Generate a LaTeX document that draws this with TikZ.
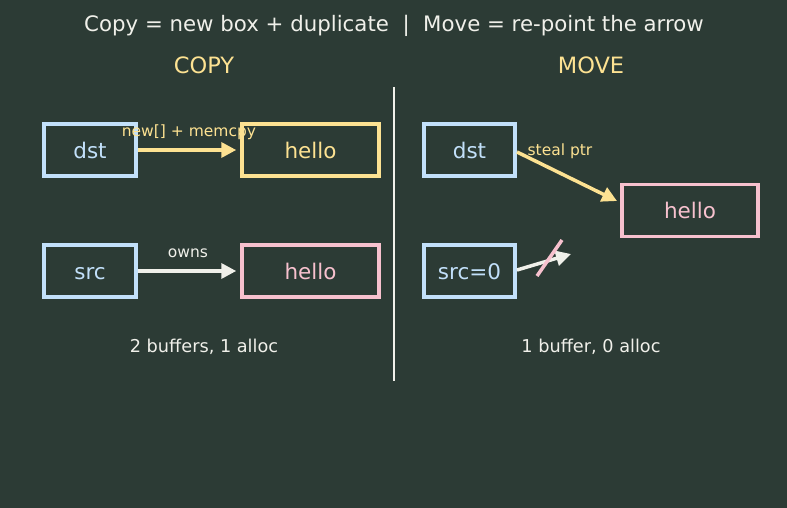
\documentclass[tikz,border=0pt]{standalone}
\usepackage{fontspec}
\setmainfont{DejaVu Sans}
\usetikzlibrary{arrows.meta}
\definecolor{bg}{HTML}{2C3B35}
\definecolor{cblue}{HTML}{C2E0FA}
\definecolor{cyel}{HTML}{FDE292}
\definecolor{cpink}{HTML}{F7C1CE}
\definecolor{cwhite}{HTML}{F0F0EA}
\tikzset{
  x=1pt,y=-1pt,
  box/.style={draw=#1,line width=3.5pt,minimum height=52pt,inner sep=0pt,text height=17pt,text depth=1pt,font=\fontsize{21.5}{24}\selectfont},
  arr/.style={draw=#1,line width=3.5pt,-{Triangle[length=15pt,width=15pt]}},
  lbl/.style={font=\fontsize{15.5}{18}\selectfont,inner sep=1pt},
}
\begin{document}
\begin{tikzpicture}
\fill[bg] (0,0) rectangle (787,508);
\useasboundingbox (0,0) rectangle (787,508);
\node[text=cwhite,font=\fontsize{21.3}{24}\selectfont] (title) at (394,25.5) {Copy = new box + duplicate\ \ |\ \ Move = re-point the arrow};
\node[text=cyel,font=\fontsize{22.5}{26}\selectfont] (hc) at (204,65) {COPY};
\node[text=cyel,font=\fontsize{22.5}{26}\selectfont] (hm) at (591,65) {MOVE};
\coordinate (d1) at (394,87);
\coordinate (d2) at (394,381);
\draw[cwhite,line width=1.8pt] (d1) -- (d2);
% COPY
\node[box=cblue,minimum width=92pt,text=cblue] (cdst) at (90,150) {dst};
\node[box=cyel,minimum width=137pt,text=cyel] (chel1) at (310.5,150) {hello};
\node[box=cblue,minimum width=92pt,text=cblue] (csrc) at (90,271) {src};
\node[box=cpink,minimum width=137pt,text=cpink] (chel2) at (310.5,271) {hello};
\draw[arr=cyel,shorten >=4pt] (cdst) -- (chel1);
\draw[arr=cwhite,shorten >=4pt] (csrc) -- (chel2);
\node[lbl,text=cyel] (l1) at (189,132.5) {new[] + memcpy};
\node[lbl,text=cwhite] (l2) at (188,253) {owns};
\node[text=cwhite,font=\fontsize{17.7}{20}\selectfont] (f1) at (204,346.5) {2 buffers, 1 alloc};
% MOVE
\node[box=cblue,minimum width=91pt,text=cblue] (mdst) at (469.5,150) {dst};
\node[box=cpink,minimum width=136pt,text=cpink] (mhel) at (690,210.5) {hello};
\node[box=cblue,minimum width=91pt,text=cblue] (msrc) at (469.5,271) {src=0};
\coordinate (ms) at (517,152);
\coordinate (me) at (617,201);
\draw[arr=cyel] (ms) -- (me);
\node[lbl,text=cyel] (l3) at (560,151) {steal ptr};
\coordinate (ws) at (517,270);
\coordinate (we) at (571,254);
\draw[arr=cwhite] (ws) -- (we);
\coordinate (x1) at (537,276);
\coordinate (x2) at (562,240);
\draw[cpink,line width=3.5pt] (x1) -- (x2);
\node[text=cwhite,font=\fontsize{17.7}{20}\selectfont] (f2) at (591,346.5) {1 buffer, 0 alloc};
\end{tikzpicture}
\end{document}
